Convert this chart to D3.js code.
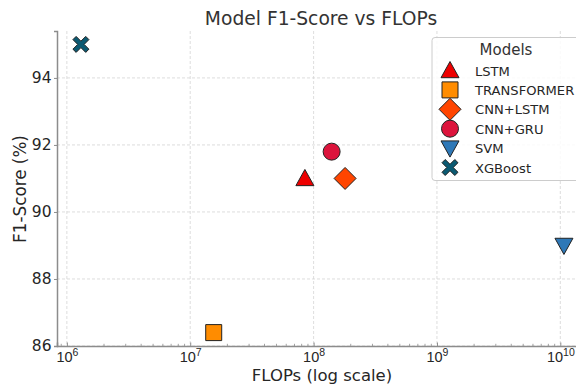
<!DOCTYPE html>
<html>
<head>
<meta charset="utf-8">
<script src="https://cdn.jsdelivr.net/npm/d3@7"></script>
<style>
  body { margin: 0; background: #fff; }
  svg { font-family: "DejaVu Sans", sans-serif; }
</style>
</head>
<body>
<svg id="chart" width="576" height="386"></svg>
<script>
// --- data
const models = ['LSTM', 'TRANSFORMER', 'CNN+LSTM', 'CNN+GRU', 'SVM', 'XGBoost'];
const flops = [8.5e7, 1.55e7, 1.8e8, 1.4e8, 1.07e10, 1.3e6];
const f1 = [91.0, 86.4, 91.0, 91.8, 89.0, 95.0];
const colors = ['#ee0000', '#ff8c00', '#ff4500', '#dc143c', '#2e78b7', '#0b5a72'];
const shapes = ['triangle', 'square', 'diamond', 'circle', 'triangleDown', 'cross'];
const xTicks = [1e6, 1e7, 1e8, 1e9, 1e10];
const yTicks = [86, 88, 90, 92, 94];

const svg = d3.select('#chart');
const m = { left: 57, right: 585, top: 31, bottom: 346 };

const x = d3.scaleLog().domain([10 ** 5.92, 10 ** 10.2]).range([m.left, m.right]);
const y = d3.scaleLinear().domain([86, 95.4]).range([m.bottom, m.top]);

// --- marker paths, size ~ matplotlib s=200
function markerPath(shape) {
    const s = 9;
    switch (shape) {
        case 'triangle': return `M0,${-s} L${s},${s * 0.8} L${-s},${s * 0.8} Z`;
        case 'triangleDown': return `M0,${s} L${s},${-s * 0.8} L${-s},${-s * 0.8} Z`;
        case 'square': return `M${-8},${-8} H8 V8 H-8 Z`;
        case 'diamond': return `M0,${-11} L11,0 L0,11 L-11,0 Z`;
        case 'circle': return d3.symbol(d3.symbolCircle, Math.PI * 8.5 * 8.5)();
        case 'cross': {
            const a = 3.2, b = 8;
            return `M${-b + a},${-b} L0,${-a} L${b - a},${-b} L${b},${-b + a} L${a},0 L${b},${b - a} L${b - a},${b} L0,${a} L${-b + a},${b} L${-b},${b - a} L${-a},0 L${-b},${-b + a} Z`;
        }
    }
}

// --- grid
const grid = svg.append('g').attr('class', 'grid');
grid.selectAll('line.gx')
    .data(xTicks)
    .enter()
    .append('line')
    .attr('x1', d => x(d)).attr('x2', d => x(d))
    .attr('y1', m.top).attr('y2', m.bottom)
    .attr('stroke', '#d4d4d4')
    .attr('stroke-width', 0.8)
    .attr('stroke-dasharray', '3,2');
grid.selectAll('line.gy')
    .data(yTicks)
    .enter()
    .append('line')
    .attr('x1', m.left).attr('x2', m.right)
    .attr('y1', d => y(d)).attr('y2', d => y(d))
    .attr('stroke', '#d4d4d4')
    .attr('stroke-width', 0.8)
    .attr('stroke-dasharray', '3,2');

// --- axes
const xAxis = svg.append('g')
    .attr('transform', `translate(0,${m.bottom})`)
    .call(d3.axisBottom(x).tickValues(xTicks).tickSize(-3.5).tickFormat(''));
xAxis.select('.domain').attr('stroke', '#8c8c8c').attr('stroke-width', 1.5);
xAxis.selectAll('.tick line').attr('stroke', '#8c8c8c');

// minor ticks
const minor = [];
for (let e = 5; e <= 10; e++) {
    for (let k = 2; k <= 9; k++) {
        const v = k * 10 ** e;
        if (v > x.domain()[0] && v < x.domain()[1]) minor.push(v);
    }
}
xAxis.selectAll('line.minor')
    .data(minor)
    .enter()
    .append('line')
    .attr('class', 'minor')
    .attr('x1', d => x(d)).attr('x2', d => x(d))
    .attr('y1', 0).attr('y2', -2.2)
    .attr('stroke', '#8c8c8c')
    .attr('stroke-width', 0.8);

// superscript tick labels
xAxis.selectAll('.tick')
    .append('text')
    .attr('y', 15.5)
    .attr('fill', '#262626')
    .attr('font-size', 14.5)
    .attr('text-anchor', 'middle')
    .each(function(d) {
        const t = d3.select(this);
        t.append('tspan').text('10');
        t.append('tspan')
            .attr('dy', -6)
            .attr('font-size', 10.5)
            .text(Math.round(Math.log10(d)));
    });

const yAxis = svg.append('g')
    .attr('transform', `translate(${m.left},0)`)
    .call(d3.axisLeft(y).tickValues(yTicks).tickSize(3).tickPadding(2.5));
yAxis.select('.domain').attr('stroke', '#8c8c8c').attr('stroke-width', 1.5);
yAxis.selectAll('.tick line').attr('stroke', '#8c8c8c');
yAxis.selectAll('.tick text')
    .attr('fill', '#262626')
    .attr('font-size', 15.5)
    .attr('font-family', '"DejaVu Sans", sans-serif');

// --- labels
svg.append('text')
    .attr('x', 321).attr('y', 25)
    .attr('text-anchor', 'middle')
    .attr('font-size', 18.7)
    .attr('fill', '#333')
    .text('Model F1-Score vs FLOPs');

svg.append('text')
    .attr('x', 322).attr('y', 381)
    .attr('text-anchor', 'middle')
    .attr('font-size', 16.5)
    .attr('fill', '#262626')
    .text('FLOPs (log scale)');

svg.append('text')
    .attr('transform', 'translate(26,189) rotate(-90)')
    .attr('text-anchor', 'middle')
    .attr('font-size', 16.8)
    .attr('fill', '#262626')
    .text('F1-Score (%)');

// --- points
const data = models.map((name, i) => ({ name, x: flops[i], y: f1[i], color: colors[i], shape: shapes[i] }));

svg.append('g')
    .selectAll('path')
    .data(data)
    .enter()
    .append('path')
    .attr('transform', d => `translate(${x(d.x)},${y(d.y)})`)
    .attr('d', d => markerPath(d.shape))
    .attr('fill', d => d.color)
    .attr('stroke', '#222')
    .attr('stroke-width', 1);

// --- legend
const legend = svg.append('g').attr('transform', 'translate(432,37.5)');
legend.append('rect')
    .attr('width', 150).attr('height', 143)
    .attr('rx', 3)
    .attr('fill', 'rgba(255,255,255,0.85)')
    .attr('stroke', '#cccccc')
    .attr('stroke-width', 1);
legend.append('text')
    .attr('x', 74).attr('y', 17)
    .attr('text-anchor', 'middle')
    .attr('font-size', 15)
    .attr('fill', '#333')
    .text('Models');

const entry = legend.selectAll('g.entry')
    .data(data)
    .enter()
    .append('g')
    .attr('class', 'entry')
    .attr('transform', (d, i) => `translate(18,${33 + i * 19.4})`);
entry.append('path')
    .attr('d', d => markerPath(d.shape))
    .attr('fill', d => d.color)
    .attr('stroke', '#222')
    .attr('stroke-width', 1);
entry.append('text')
    .attr('x', 25).attr('y', 5)
    .attr('font-size', 13.1)
    .attr('fill', '#262626')
    .text(d => d.name);
</script>
</body>
</html>
